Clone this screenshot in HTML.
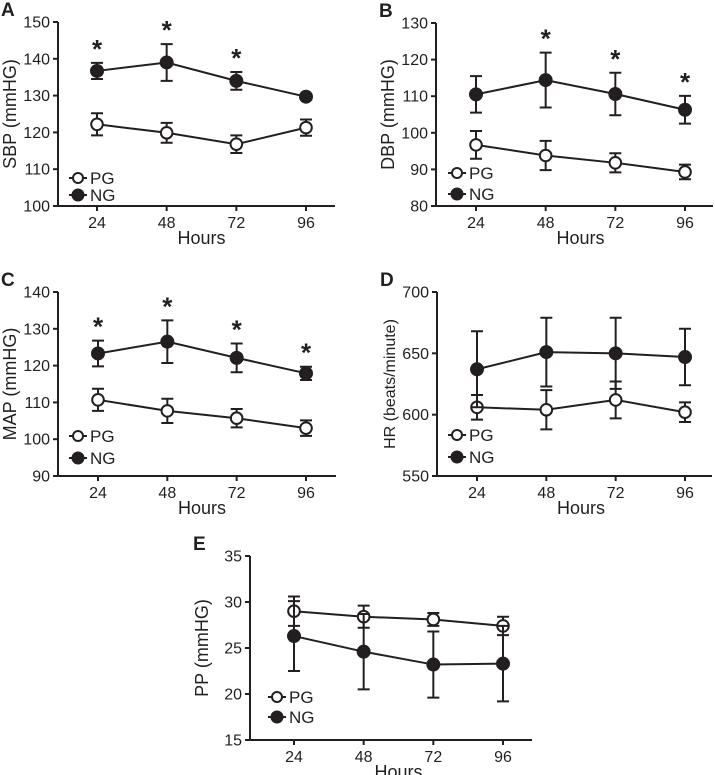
<!DOCTYPE html>
<html><head><meta charset="utf-8"><style>
html,body{margin:0;padding:0;background:#fff;}
svg{display:block;font-family:"Liberation Sans",Arial,sans-serif;}
</style></head><body>
<svg id="fig" width="715" height="775" viewBox="0 0 715 775" xmlns="http://www.w3.org/2000/svg"></svg>
<script>
const hours = [24, 48, 72, 96];
// Panel A - SBP
const aTicks = [100, 110, 120, 130, 140, 150];
const aNG = [136.7, 139, 134, 129.7];
const aNGerr = [2.2, 5, 2.4, 0.3];
const aPG = [122.2, 119.9, 116.8, 121.3];
const aPGerr = [3, 2.7, 2.4, 2.2];
const aStars = [true, true, true, false];
// Panel B - DBP
const bTicks = [80, 90, 100, 110, 120, 130];
const bNG = [110.5, 114.4, 110.6, 106.3];
const bNGerr = [5, 7.5, 5.8, 3.8];
const bPG = [96.7, 93.8, 91.8, 89.3];
const bPGerr = [3.8, 4, 2.6, 2];
const bStars = [false, true, true, true];
// Panel C - MAP
const cTicks = [90, 100, 110, 120, 130, 140];
const cNG = [123.3, 126.5, 122.1, 117.9];
const cNGerr = [3.5, 5.8, 3.9, 1.8];
const cPG = [110.7, 107.7, 105.7, 103];
const cPGerr = [3, 3.3, 2.5, 2.1];
const cStars = [true, true, true, true];
// Panel D - HR
const dTicks = [550, 600, 650, 700];
const dNG = [637, 651, 650, 647];
const dNGerr = [31, 28, 29, 23];
const dPG = [606, 604, 612, 602];
const dPGerr = [10, 16, 15, 8];
const dStars = [false, false, false, false];
// Panel E - PP
const eTicks = [15, 20, 25, 30, 35];
const eNG = [26.3, 24.6, 23.2, 23.3];
const eNGerr = [3.8, 4.1, 3.6, 4.1];
const ePG = [29, 28.4, 28.1, 27.4];
const ePGerr = [1.6, 1.2, 0.7, 1];
const eStars = [false, false, false, false];

const NS = "http://www.w3.org/2000/svg";
const svg = document.getElementById("fig");
function mk(tag, attrs, parent) {
  const e = document.createElementNS(NS, tag);
  for (const k in attrs) e.setAttribute(k, attrs[k]);
  (parent || svg).appendChild(e);
  return e;
}

function panel(cfg) {
  const g = mk("g", {});
  
  
  const ymin = cfg.ticks[0], ymax = cfg.ticks[cfg.ticks.length - 1];
  const ys = v => cfg.bottom - (v - ymin) / (ymax - ymin) * (cfg.bottom - cfg.top);
  const xs = h => cfg.x24 + (h - 24) / 72 * (cfg.x96 - cfg.x24);

  const letter = mk("text", {x: cfg.axisX - 57, y: cfg.top - 6, "font-size": 19, "font-weight": "bold", fill: "#231f20"}, g);
  letter.textContent = cfg.letter;
  
  

  const ax = mk("path", {d: `M${cfg.axisX},${cfg.top} V${cfg.bottom} H${cfg.xEnd}`, stroke: "#231f20", "stroke-width": 2, fill: "none"}, g);
  
  

  cfg.ticks.forEach(t => {
    const y = ys(t);
    const tk = mk("line", {x1: cfg.axisX - 5, x2: cfg.axisX, y1: y, y2: y, stroke: "#231f20", "stroke-width": 2}, g);
    
    
    const tl = mk("text", {x: cfg.axisX - 8, y: y + 5.5, "font-size": 16, "text-anchor": "end", fill: "#231f20"}, g);
    tl.textContent = t;
    
    
  });
  hours.forEach(h => {
    const x = xs(h);
    const tk = mk("line", {x1: x, x2: x, y1: cfg.bottom, y2: cfg.bottom + 5, stroke: "#231f20", "stroke-width": 2}, g);
    
    
    const tl = mk("text", {x: x, y: cfg.bottom + 22, "font-size": 16, "text-anchor": "middle", fill: "#231f20"}, g);
    tl.textContent = h;
    
    
  });
  const xt = mk("text", {x: (cfg.x24 + cfg.x96) / 2, y: cfg.bottom + 38, "font-size": 18, "text-anchor": "middle", fill: "#231f20"}, g);
  xt.textContent = "Hours";
  
  
  const cy = (cfg.top + cfg.bottom) / 2;
  const yx = cfg.axisX - 42;
  const yt = mk("text", {x: yx, y: cy, "font-size": cfg.ylabelSize || 18, "text-anchor": "middle", fill: "#231f20", transform: `rotate(-90 ${yx} ${cy})`}, g);
  yt.textContent = cfg.ylabel;
  
  

  function series(vals, errs, filled, name) {
    const sg = mk("g", {}, g);
    
    
    const pts = vals.map((v, i) => `${xs(hours[i])},${ys(v)}`).join(" ");
    const ln = mk("polyline", {points: pts, fill: "none", stroke: "#231f20", "stroke-width": 2}, sg);
    
    
    vals.forEach((v, i) => {
      const x = xs(hours[i]);
      const y1 = ys(v + errs[i]), y2 = ys(v - errs[i]);
      const eb = mk("path", {d: `M${x},${y1} V${y2} M${x - 6},${y1} H${x + 6} M${x - 6},${y2} H${x + 6}`, stroke: "#231f20", "stroke-width": 2, fill: "none"}, sg);
      
      
    });
    vals.forEach((v, i) => {
      const pt = mk("circle", {cx: xs(hours[i]), cy: ys(v), r: filled ? 6 : 5.8, fill: filled ? "#231f20" : "#fff", stroke: "#231f20", "stroke-width": 2}, sg);
      
      
    });
  }
  series(cfg.pg, cfg.pgErr, false, 'pg');
  series(cfg.ng, cfg.ngErr, true, 'ng');

  cfg.stars.forEach((s, i) => {
    if (!s) return;
    const top = ys(cfg.ng[i] + cfg.ngErr[i]);
    const st = mk("text", {x: xs(hours[i]), y: top - 5, "font-size": 26, "font-weight": "bold", "text-anchor": "middle", fill: "#231f20"}, g);
    st.textContent = "*";
    
    
  });

  const lg = mk("g", {}, g);
  
  
  [["PG", false, cfg.legY[0]], ["NG", true, cfg.legY[1]]].forEach(([lab, filled, y]) => {
    const lx = cfg.axisX + cfg.legDx;
    const e = mk("g", {}, lg);
    
    
    mk("line", {x1: lx - 9, x2: lx + 9, y1: y, y2: y, stroke: "#231f20", "stroke-width": 2}, e);
    mk("circle", {cx: lx, cy: y, r: filled ? 5.5 : 5, fill: filled ? "#231f20" : "#fff", stroke: "#231f20", "stroke-width": 2}, e);
    const t = mk("text", {x: lx + 12, y: y + 6, "font-size": 17, fill: "#231f20"}, e);
    t.textContent = lab;
  });
}

panel({letter: "A", ylabel: "SBP (mmHG)", ticks: aTicks, axisX: 58, top: 22, bottom: 206, x24: 97, x96: 306, xEnd: 335,
  ng: aNG, ngErr: aNGerr, pg: aPG, pgErr: aPGerr, stars: aStars, legDx: 20, legY: [178, 195]});
panel({letter: "B", ylabel: "DBP (mmHG)", ticks: bTicks, axisX: 436, top: 23, bottom: 206, x24: 476, x96: 685, xEnd: 713,
  ng: bNG, ngErr: bNGerr, pg: bPG, pgErr: bPGerr, stars: bStars, legDx: 21, legY: [173, 194]});
panel({letter: "C", ylabel: "MAP (mmHG)", ticks: cTicks, axisX: 58, top: 292, bottom: 476, x24: 98, x96: 306, xEnd: 336,
  ng: cNG, ngErr: cNGerr, pg: cPG, pgErr: cPGerr, stars: cStars, legDx: 20, legY: [436, 458]});
panel({letter: "D", ylabel: "HR (beats/minute)", ylabelSize: 16, ticks: dTicks, axisX: 437, top: 292, bottom: 476, x24: 477, x96: 685, xEnd: 712,
  ng: dNG, ngErr: dNGerr, pg: dPG, pgErr: dPGerr, stars: dStars, legDx: 20, legY: [435, 457]});
panel({letter: "E", ylabel: "PP (mmHG)", ticks: eTicks, axisX: 250, top: 556, bottom: 740, x24: 294, x96: 503, xEnd: 532,
  ng: eNG, ngErr: eNGerr, pg: ePG, pgErr: ePGerr, stars: eStars, legDx: 27, legY: [697, 717]});
</script>
</body></html>
